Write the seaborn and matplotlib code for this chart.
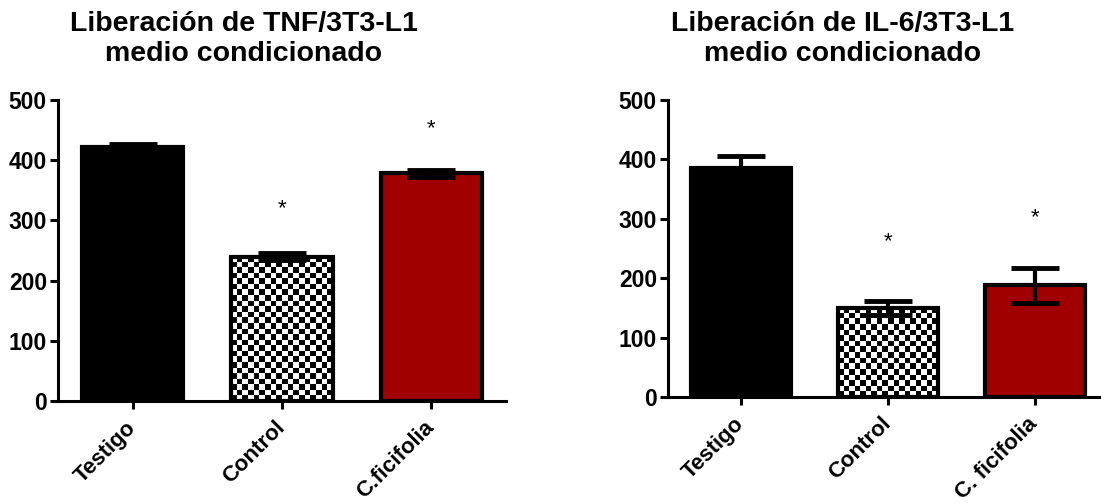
import numpy as np
import seaborn as sns
import matplotlib
matplotlib.use("Agg")
import matplotlib.pyplot as plt

# data
groups_tnf = ["Testigo", "Control", "C.ficifolia"]
tnf_mean = [422, 240, 378]
tnf_err = [5, 6, 6]
tnf_star = [None, 320, 453]

groups_il6 = ["Testigo", "Control", "C. ficifolia"]
il6_mean = [385, 150, 188]
il6_err = [21, 12, 29]
il6_star = [None, 262, 302]

bar_colors = ["#000000", "#ffffff", "#a00000"]

sns.set_style("ticks")
plt.rcParams["font.family"] = ["Liberation Sans", "DejaVu Sans"]
plt.rcParams.update({"text.color": "black", "axes.edgecolor": "black",
                     "xtick.color": "black", "ytick.color": "black",
                     "axes.labelcolor": "black"})

fig = plt.figure(figsize=(11.01, 5.04), dpi=100)
ax1 = fig.add_axes([58 / 1101, 103 / 504, 448 / 1101, 301 / 504])
ax2 = fig.add_axes([668 / 1101, 107 / 504, 440 / 1101, 297 / 504])


def checker_fill(ax, patch, cell_px=5.5):
    # checkerboard pattern clipped to the bar
    fig.canvas.draw()
    bb = patch.get_window_extent()
    nx = max(2, int(round(bb.width / cell_px)))
    ny = max(2, int(round(bb.height / cell_px)))
    board = (np.indices((ny, nx)).sum(axis=0) % 2).astype(float)
    x0, w, h = patch.get_x(), patch.get_width(), patch.get_height()
    im = ax.imshow(board, extent=(x0, x0 + w, 0, h), cmap="gray", aspect="auto",
                   interpolation="nearest", origin="lower", zorder=1.5)
    im.set_clip_path(patch)
    patch.set_facecolor("none")
    patch.set_zorder(2)


def draw_panel(ax, groups, means, errs, stars, title, title_x, xmax):
    sns.barplot(x=groups, y=means, hue=groups, palette=bar_colors, legend=False,
                edgecolor="black", linewidth=3, width=0.68, saturation=1, ax=ax)
    ax.errorbar(range(len(groups)), means, yerr=errs, fmt="none", ecolor="black",
                elinewidth=3, capsize=17, capthick=3.5, zorder=3)
    for i, s in enumerate(stars):
        if s is not None:
            ax.text(i, s, "*", ha="center", va="center", fontsize=16)
    ax.set_ylim(0, 500)
    ax.set_xlim(-0.5, xmax)
    ax.set_yticks([0, 100, 200, 300, 400, 500])
    ax.set_xlabel("")
    ax.set_ylabel("")
    sns.despine(ax=ax)
    for sp in ["left", "bottom"]:
        ax.spines[sp].set_linewidth(2.2)
    ax.tick_params(axis="both", width=2.2, length=6, labelsize=16.5, pad=2)
    for lab in ax.get_yticklabels():
        lab.set_fontweight("bold")
    ax.set_xticks(range(len(groups)))
    ax.set_xticklabels(groups, rotation=45, ha="right", va="center",
                       rotation_mode="anchor", fontweight="bold", fontsize=16)
    ax.tick_params(axis="x", pad=11)
    line1, line2 = title
    fig.text(title_x / 1101, 1 - 31 / 504, line1, ha="center", va="baseline",
             fontsize=20.5, fontweight="bold")
    fig.text(title_x / 1101, 1 - 61 / 504, line2, ha="center", va="baseline",
             fontsize=20.5, fontweight="bold")
    return ax


draw_panel(ax1, groups_tnf, tnf_mean, tnf_err, tnf_star,
           ("Liberación de TNF/3T3-L1", "medio condicionado"), 244, 2.5)
draw_panel(ax2, groups_il6, il6_mean, il6_err, il6_star,
           ("Liberación de IL-6/3T3-L1", "medio condicionado"), 843, 2.5)

checker_fill(ax1, ax1.patches[1])
checker_fill(ax2, ax2.patches[1])

fig.savefig("out.png", dpi=100)
